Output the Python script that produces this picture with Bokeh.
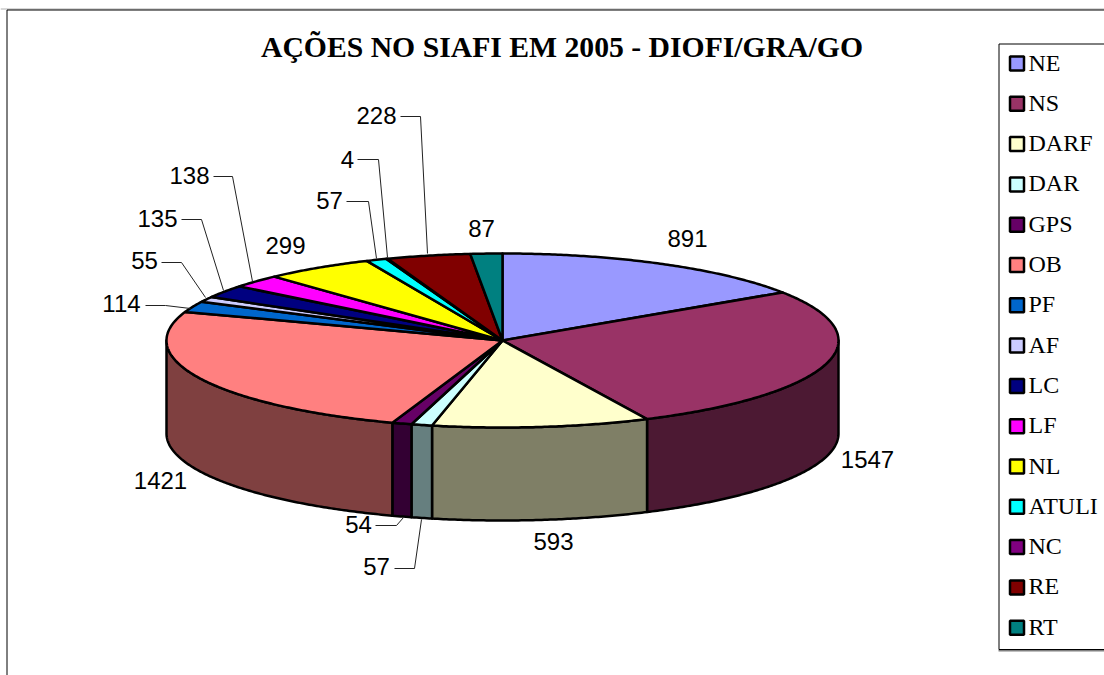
import math
from bokeh.embed import file_html
from bokeh.resources import INLINE
from bokeh.plotting import figure
from bokeh.models import Range1d
from bokeh.core.properties import value

title = "AÇÕES NO SIAFI EM 2005 - DIOFI/GRA/GO"
categories = ["NE", "NS", "DARF", "DAR", "GPS", "OB", "PF", "AF", "LC", "LF", "NL", "ATULI", "NC", "RE", "RT"]
values = [891, 1547, 593, 57, 54, 1421, 114, 55, 135, 138, 299, 57, 4, 228, 87]
colors = ["#9999FF", "#993366", "#FFFFCC", "#CCFFFF", "#660066", "#FF8080", "#0066CC", "#CCCCFF",
          "#000080", "#FF00FF", "#FFFF00", "#00FFFF", "#800080", "#800000", "#008080"]

# layout (page pixels)
CX, CY, RX, RY, DEPTH = 502, 340, 336, 87, 93
LW = 2.5
label_pos = [(687, 238), (867, 459), (553, 541), (376, 566), (358, 524), (160, 480), (121, 303), (144, 260),
             (157, 218), (189, 175), (285, 245), (329, 200), (347, 159), (376, 115), (481, 228)]
leaders = [None, None, None,
           [(394, 568), (414, 568), (421, 519)],
           [(375, 525), (396, 525), (403, 517)],
           None,
           [(145, 305), (165, 305), (190, 308)],
           [(161, 262), (181, 262), (205, 297)],
           [(181, 219), (201, 219), (223, 290)],
           [(213, 176), (232, 176), (252, 281)],
           None,
           [(346, 201), (368, 201), (376, 258)],
           [(357, 159), (378, 159), (387, 257)],
           [(400, 116), (420, 116), (427, 253)],
           None]


def pt(a, dz=0):
    r = math.radians(a)
    return CX + RX * math.sin(r), CY - RY * math.cos(r) + dz


def arc(a0, a1, dz=0):
    n = max(2, int(abs(a1 - a0) * 2) + 2)
    return [pt(a0 + (a1 - a0) * i / (n - 1), dz) for i in range(n)]


def darker(h):
    return "#%02x%02x%02x" % tuple(int(h[i:i + 2], 16) // 2 for i in (1, 3, 5))


total = sum(values)
angles = [0]
for v in values:
    angles.append(angles[-1] + v / total * 360)

p = figure(width=1104, height=675, output_backend="svg", toolbar_location=None,
           x_range=Range1d(0, 1104), y_range=Range1d(675, 0), min_border=0,
           x_axis_type=None, y_axis_type=None, outline_line_color=None,
           background_fill_color="white", border_fill_color="white")
p.grid.visible = False

# chart frame
p.line([0, 1104], [8.5, 8.5], line_color="#b0b0b0", line_width=1)
p.line([6.5, 6.5, 1104], [675, 9.5, 9.5], line_color="black", line_width=1)

# front wall of the pie
for i, c in enumerate(colors):
    a0, a1 = max(angles[i], 90), min(angles[i + 1], 270)
    if a1 <= a0:
        continue
    pts = arc(a0, a1) + arc(a1, a0, DEPTH)
    p.patch([q[0] for q in pts], [q[1] for q in pts], fill_color=darker(c),
            line_color="black", line_width=LW, line_join="round")

# top face
for i, c in enumerate(colors):
    pts = [(CX, CY)] + arc(angles[i], angles[i + 1])
    p.patch([q[0] for q in pts], [q[1] for q in pts], fill_color=c,
            line_color="black", line_width=LW, line_join="round")

# leader lines
for ld in leaders:
    if ld:
        p.line([q[0] for q in ld], [q[1] for q in ld], line_color="#222222", line_width=1)

# value labels
p.text([q[0] for q in label_pos], [q[1] for q in label_pos], text=[str(v) for v in values],
       text_font=value("Liberation Sans"), text_font_size="24px", text_color="black",
       text_align="center", text_baseline="middle")

# title
p.text([561.5], [46], text=[title], text_font=value("Liberation Serif"), text_font_style="bold",
       text_font_size="29.7px", text_color="black", text_align="center", text_baseline="middle")

# legend
p.line([998, 1104], [650, 650], line_color="#808080", line_width=2)
p.line([1104, 998.5, 998.5, 1104], [43.5, 43.5, 649, 649], line_color="black", line_width=1)
ys = [63 + i * 40.3 for i in range(len(categories))]
p.rect([1016.5] * len(ys), ys, width=14, height=14, fill_color=colors, line_color="black", line_width=2.5)
p.text([1028] * len(ys), [y - 1 for y in ys], text=categories, text_font=value("Liberation Serif"),
       text_font_size="24px", text_color="black", text_align="left", text_baseline="middle")

open("out.html", "w").write(file_html(p, INLINE))
